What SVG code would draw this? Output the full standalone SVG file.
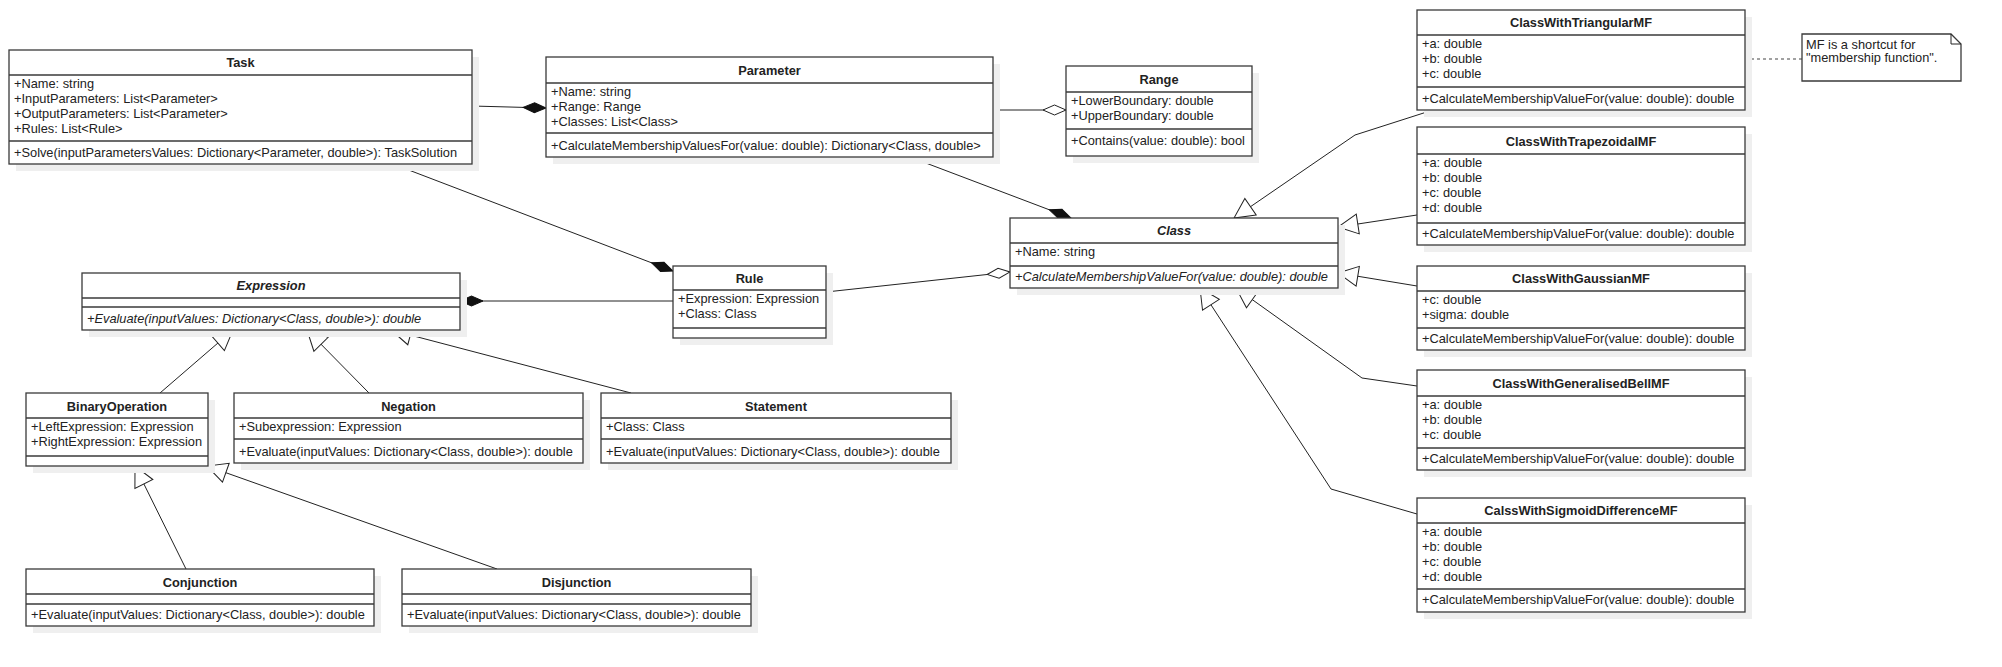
<svg xmlns="http://www.w3.org/2000/svg" width="2002" height="667" viewBox="0 0 2002 667">
<style>
.bg{fill:#ffffff}
.sh{fill:#efefef}
.box{fill:#ffffff;stroke:#3a3a3a;stroke-width:1.3}
.sep{stroke:#3a3a3a;stroke-width:1.3}
text{font-family:"Liberation Sans",Arial,sans-serif;font-size:12.8px;fill:#222}
.t{font-weight:bold;text-anchor:middle}
.i{font-style:italic}
.edge{stroke:#222;stroke-width:1;fill:none}
.dash{stroke:#444;stroke-width:1.2;fill:none;stroke-dasharray:3,3}
</style>
<defs>
<marker id="comp" markerUnits="userSpaceOnUse" markerWidth="26" markerHeight="12" refX="23" refY="6" orient="auto" overflow="visible">
<path d="M0,6 L11.5,1 L23,6 L11.5,11 Z" fill="#111" stroke="#111" stroke-width="1"/>
</marker>
<marker id="agg" markerUnits="userSpaceOnUse" markerWidth="26" markerHeight="12" refX="23" refY="6" orient="auto" overflow="visible">
<path d="M0,6 L11.5,1 L23,6 L11.5,11 Z" fill="#fff" stroke="#222" stroke-width="1"/>
</marker>
<marker id="gen" markerUnits="userSpaceOnUse" markerWidth="22" markerHeight="22" refX="20" refY="11" orient="auto" overflow="visible">
<path d="M0,1 L20,11 L0,21 Z" fill="#fff" stroke="#222" stroke-width="1"/>
</marker>
</defs>
<rect class="bg" x="0" y="0" width="2002" height="667"/>

<g id="connectors">
<path class="edge" d="M472,106 L546,108" marker-end="url(#comp)"/>
<path class="edge" d="M993,110 L1066,110" marker-end="url(#agg)"/>
<path class="edge" d="M910,157 L1071,218" marker-end="url(#comp)"/>
<path class="edge" d="M393,164 L673,271" marker-end="url(#comp)"/>
<path class="edge" d="M673,301 L460,301" marker-end="url(#comp)"/>
<path class="edge" d="M826,292 L1010,272" marker-end="url(#agg)"/>
<path class="edge" d="M1433,110 L1355,135 L1234,218" marker-end="url(#gen)"/>
<path class="edge" d="M1417,215 L1338,227" marker-end="url(#gen)"/>
<path class="edge" d="M1417,286 L1338,273" marker-end="url(#gen)"/>
<path class="edge" d="M1417,386 L1362,378 L1236,288" marker-end="url(#gen)"/>
<path class="edge" d="M1417,514 L1331,489 L1200,288" marker-end="url(#gen)"/>
<path class="edge" d="M160,393 L233,330" marker-end="url(#gen)"/>
<path class="edge" d="M369,393 L307,330" marker-end="url(#gen)"/>
<path class="edge" d="M631,393 L391,330" marker-end="url(#gen)"/>
<path class="edge" d="M186,569 L135,466" marker-end="url(#gen)"/>
<path class="edge" d="M497,569 L207,466" marker-end="url(#gen)"/>
<path class="dash" d="M1745,59 L1802,59"/>
</g>

<g id="Task">
<rect class="sh" x="16" y="57" width="463" height="114"/>
<rect class="box" x="9" y="50" width="463" height="114"/>
<line class="sep" x1="9" y1="75" x2="472" y2="75"/>
<line class="sep" x1="9" y1="141" x2="472" y2="141"/>
<text class="t" x="240.5" y="67">Task</text>
<text x="14" y="88">+Name: string</text>
<text x="14" y="103">+InputParameters: List&lt;Parameter&gt;</text>
<text x="14" y="118">+OutputParameters: List&lt;Parameter&gt;</text>
<text x="14" y="133">+Rules: List&lt;Rule&gt;</text>
<text x="14" y="157">+Solve(inputParametersValues: Dictionary&lt;Parameter, double&gt;): TaskSolution</text>
</g>

<g id="Parameter">
<rect class="sh" x="553" y="64" width="447" height="100"/>
<rect class="box" x="546" y="57" width="447" height="100"/>
<line class="sep" x1="546" y1="83" x2="993" y2="83"/>
<line class="sep" x1="546" y1="133" x2="993" y2="133"/>
<text class="t" x="769.5" y="75">Parameter</text>
<text x="551" y="96">+Name: string</text>
<text x="551" y="111">+Range: Range</text>
<text x="551" y="126">+Classes: List&lt;Class&gt;</text>
<text x="551" y="150">+CalculateMembershipValuesFor(value: double): Dictionary&lt;Class, double&gt;</text>
</g>

<g id="Range">
<rect class="sh" x="1073" y="73" width="186" height="90"/>
<rect class="box" x="1066" y="66" width="186" height="90"/>
<line class="sep" x1="1066" y1="92" x2="1252" y2="92"/>
<line class="sep" x1="1066" y1="129" x2="1252" y2="129"/>
<text class="t" x="1159" y="84">Range</text>
<text x="1071" y="105">+LowerBoundary: double</text>
<text x="1071" y="120">+UpperBoundary: double</text>
<text x="1071" y="145">+Contains(value: double): bool</text>
</g>

<g id="ClassWithTriangularMF">
<rect class="sh" x="1424" y="17" width="328" height="100"/>
<rect class="box" x="1417" y="10" width="328" height="100"/>
<line class="sep" x1="1417" y1="35" x2="1745" y2="35"/>
<line class="sep" x1="1417" y1="87" x2="1745" y2="87"/>
<text class="t" x="1581" y="27">ClassWithTriangularMF</text>
<text x="1422" y="48">+a: double</text>
<text x="1422" y="63">+b: double</text>
<text x="1422" y="78">+c: double</text>
<text x="1422" y="103">+CalculateMembershipValueFor(value: double): double</text>
</g>

<g id="Note">
<path class="box" d="M1802,34 L1951,34 L1961,44 L1961,81 L1802,81 Z"/>
<path class="edge" d="M1951,34 L1951,44 L1961,44" stroke="#3a3a3a"/>
<text x="1806" y="49">MF is a shortcut for</text>
<text x="1806" y="62">"membership function".</text>
</g>

<g id="ClassWithTrapezoidalMF">
<rect class="sh" x="1424" y="134" width="328" height="118"/>
<rect class="box" x="1417" y="127" width="328" height="118"/>
<line class="sep" x1="1417" y1="154" x2="1745" y2="154"/>
<line class="sep" x1="1417" y1="223" x2="1745" y2="223"/>
<text class="t" x="1581" y="146">ClassWithTrapezoidalMF</text>
<text x="1422" y="167">+a: double</text>
<text x="1422" y="182">+b: double</text>
<text x="1422" y="197">+c: double</text>
<text x="1422" y="212">+d: double</text>
<text x="1422" y="238">+CalculateMembershipValueFor(value: double): double</text>
</g>

<g id="Class">
<rect class="sh" x="1017" y="225" width="328" height="70"/>
<rect class="box" x="1010" y="218" width="328" height="70"/>
<line class="sep" x1="1010" y1="243" x2="1338" y2="243"/>
<line class="sep" x1="1010" y1="266" x2="1338" y2="266"/>
<text class="t i" x="1174" y="235">Class</text>
<text x="1015" y="256">+Name: string</text>
<text class="i" x="1015" y="281">+CalculateMembershipValueFor(value: double): double</text>
</g>

<g id="ClassWithGaussianMF">
<rect class="sh" x="1424" y="273" width="328" height="84"/>
<rect class="box" x="1417" y="266" width="328" height="84"/>
<line class="sep" x1="1417" y1="291" x2="1745" y2="291"/>
<line class="sep" x1="1417" y1="328" x2="1745" y2="328"/>
<text class="t" x="1581" y="283">ClassWithGaussianMF</text>
<text x="1422" y="304">+c: double</text>
<text x="1422" y="319">+sigma: double</text>
<text x="1422" y="343">+CalculateMembershipValueFor(value: double): double</text>
</g>

<g id="ClassWithGeneralisedBellMF">
<rect class="sh" x="1424" y="377" width="328" height="100"/>
<rect class="box" x="1417" y="370" width="328" height="100"/>
<line class="sep" x1="1417" y1="396" x2="1745" y2="396"/>
<line class="sep" x1="1417" y1="448" x2="1745" y2="448"/>
<text class="t" x="1581" y="388">ClassWithGeneralisedBellMF</text>
<text x="1422" y="409">+a: double</text>
<text x="1422" y="424">+b: double</text>
<text x="1422" y="439">+c: double</text>
<text x="1422" y="463">+CalculateMembershipValueFor(value: double): double</text>
</g>

<g id="CalssWithSigmoidDifferenceMF">
<rect class="sh" x="1424" y="505" width="328" height="114"/>
<rect class="box" x="1417" y="498" width="328" height="114"/>
<line class="sep" x1="1417" y1="523" x2="1745" y2="523"/>
<line class="sep" x1="1417" y1="589" x2="1745" y2="589"/>
<text class="t" x="1581" y="515">CalssWithSigmoidDifferenceMF</text>
<text x="1422" y="536">+a: double</text>
<text x="1422" y="551">+b: double</text>
<text x="1422" y="566">+c: double</text>
<text x="1422" y="581">+d: double</text>
<text x="1422" y="604">+CalculateMembershipValueFor(value: double): double</text>
</g>

<g id="Rule">
<rect class="sh" x="680" y="273" width="153" height="72"/>
<rect class="box" x="673" y="266" width="153" height="72"/>
<line class="sep" x1="673" y1="290" x2="826" y2="290"/>
<line class="sep" x1="673" y1="328" x2="826" y2="328"/>
<text class="t" x="749.5" y="283">Rule</text>
<text x="678" y="303">+Expression: Expression</text>
<text x="678" y="318">+Class: Class</text>
</g>

<g id="Expression">
<rect class="sh" x="89" y="280" width="378" height="57"/>
<rect class="box" x="82" y="273" width="378" height="57"/>
<line class="sep" x1="82" y1="298" x2="460" y2="298"/>
<line class="sep" x1="82" y1="307" x2="460" y2="307"/>
<text class="t i" x="271" y="290">Expression</text>
<text class="i" x="87" y="323">+Evaluate(inputValues: Dictionary&lt;Class, double&gt;): double</text>
</g>

<g id="BinaryOperation">
<rect class="sh" x="33" y="400" width="182" height="73"/>
<rect class="box" x="26" y="393" width="182" height="73"/>
<line class="sep" x1="26" y1="418" x2="208" y2="418"/>
<line class="sep" x1="26" y1="456" x2="208" y2="456"/>
<text class="t" x="117" y="411">BinaryOperation</text>
<text x="31" y="431">+LeftExpression: Expression</text>
<text x="31" y="446">+RightExpression: Expression</text>
</g>

<g id="Negation">
<rect class="sh" x="241" y="400" width="349" height="70"/>
<rect class="box" x="234" y="393" width="349" height="70"/>
<line class="sep" x1="234" y1="418" x2="583" y2="418"/>
<line class="sep" x1="234" y1="439" x2="583" y2="439"/>
<text class="t" x="408.5" y="411">Negation</text>
<text x="239" y="431">+Subexpression: Expression</text>
<text x="239" y="456">+Evaluate(inputValues: Dictionary&lt;Class, double&gt;): double</text>
</g>

<g id="Statement">
<rect class="sh" x="608" y="400" width="350" height="70"/>
<rect class="box" x="601" y="393" width="350" height="70"/>
<line class="sep" x1="601" y1="418" x2="951" y2="418"/>
<line class="sep" x1="601" y1="439" x2="951" y2="439"/>
<text class="t" x="776" y="411">Statement</text>
<text x="606" y="431">+Class: Class</text>
<text x="606" y="456">+Evaluate(inputValues: Dictionary&lt;Class, double&gt;): double</text>
</g>

<g id="Conjunction">
<rect class="sh" x="33" y="576" width="348" height="57"/>
<rect class="box" x="26" y="569" width="348" height="57"/>
<line class="sep" x1="26" y1="594" x2="374" y2="594"/>
<line class="sep" x1="26" y1="604" x2="374" y2="604"/>
<text class="t" x="200" y="587">Conjunction</text>
<text x="31" y="619">+Evaluate(inputValues: Dictionary&lt;Class, double&gt;): double</text>
</g>

<g id="Disjunction">
<rect class="sh" x="409" y="576" width="349" height="57"/>
<rect class="box" x="402" y="569" width="349" height="57"/>
<line class="sep" x1="402" y1="594" x2="751" y2="594"/>
<line class="sep" x1="402" y1="604" x2="751" y2="604"/>
<text class="t" x="576.5" y="587">Disjunction</text>
<text x="407" y="619">+Evaluate(inputValues: Dictionary&lt;Class, double&gt;): double</text>
</g>
</svg>
